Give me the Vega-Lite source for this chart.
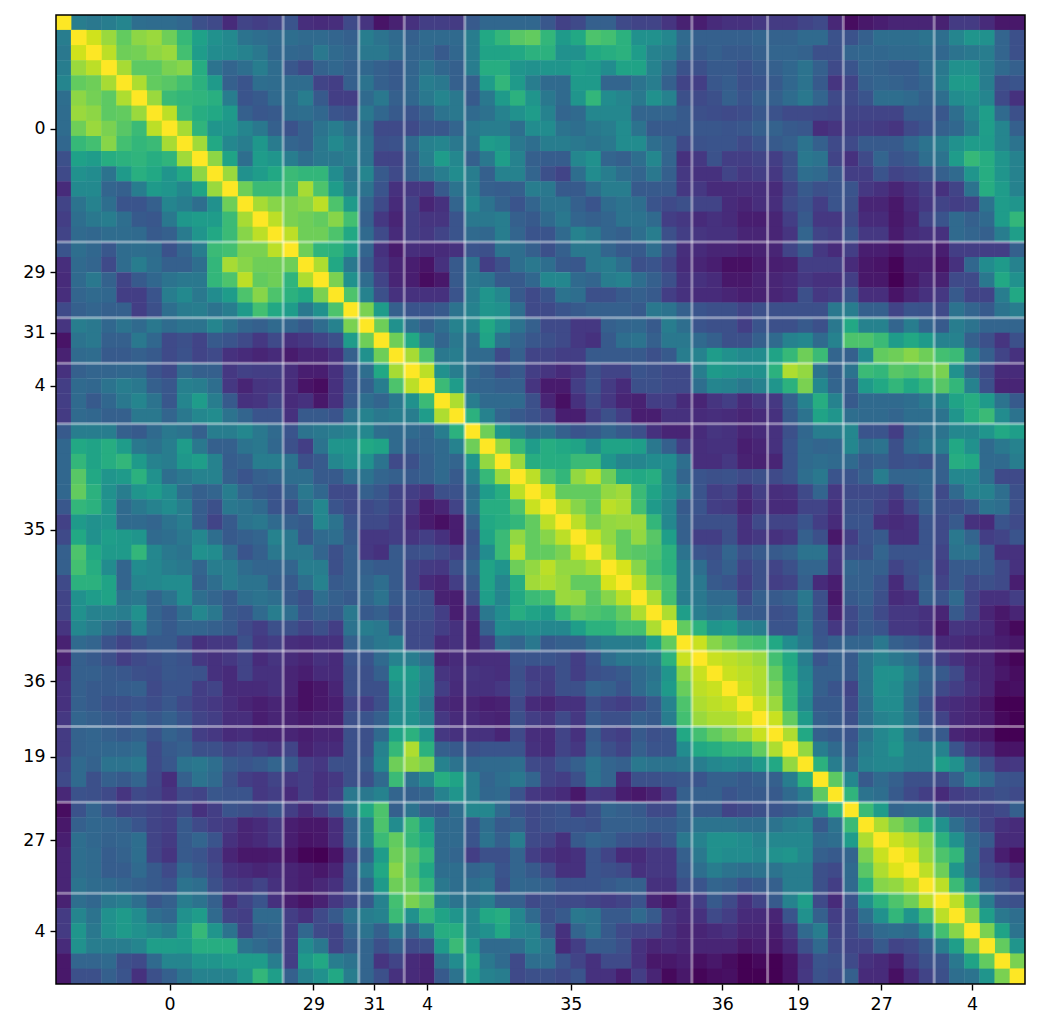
{"$schema":"https://vega.github.io/schema/vega-lite/v6.json","width":969,"height":969,"autosize":"none","padding":{"left":56,"top":15,"right":14,"bottom":49},"background":"white","config":{"view":{"stroke":null}},
"data":{"values":[
{"i":0,"j":0,"v":100},{"i":0,"j":1,"v":42},{"i":0,"j":2,"v":40},{"i":0,"j":3,"v":42},{"i":0,"j":4,"v":45},{"i":0,"j":5,"v":36},{"i":0,"j":6,"v":35},{"i":0,"j":7,"v":35},{"i":0,"j":8,"v":33},{"i":0,"j":9,"v":24},{"i":0,"j":10,"v":22},{"i":0,"j":11,"v":12},{"i":0,"j":12,"v":20},{"i":0,"j":13,"v":18},{"i":0,"j":14,"v":20},{"i":0,"j":15,"v":26},{"i":0,"j":16,"v":13},{"i":0,"j":17,"v":12},{"i":0,"j":18,"v":13},{"i":0,"j":19,"v":22},{"i":0,"j":20,"v":15},{"i":0,"j":21,"v":5},{"i":0,"j":22,"v":9},{"i":0,"j":23,"v":14},{"i":0,"j":24,"v":18},{"i":0,"j":25,"v":18},{"i":0,"j":26,"v":17},{"i":0,"j":27,"v":28},{"i":0,"j":28,"v":33},{"i":0,"j":29,"v":33},{"i":0,"j":30,"v":33},{"i":0,"j":31,"v":33},{"i":0,"j":32,"v":27},{"i":0,"j":33,"v":19},{"i":0,"j":34,"v":22},{"i":0,"j":35,"v":30},{"i":0,"j":36,"v":30},{"i":0,"j":37,"v":22},{"i":0,"j":38,"v":20},{"i":0,"j":39,"v":20},{"i":0,"j":40,"v":15},{"i":0,"j":41,"v":9},{"i":0,"j":42,"v":8},{"i":0,"j":43,"v":12},{"i":0,"j":44,"v":14},{"i":0,"j":45,"v":14},{"i":0,"j":46,"v":16},{"i":0,"j":47,"v":17},{"i":0,"j":48,"v":17},{"i":0,"j":49,"v":20},{"i":0,"j":50,"v":22},{"i":0,"j":51,"v":11},{"i":0,"j":52,"v":3},{"i":0,"j":53,"v":6},{"i":0,"j":54,"v":8},{"i":0,"j":55,"v":10},{"i":0,"j":56,"v":10},{"i":0,"j":57,"v":10},{"i":0,"j":58,"v":9},{"i":0,"j":59,"v":17},{"i":0,"j":60,"v":17},{"i":0,"j":61,"v":12},{"i":0,"j":62,"v":6},{"i":0,"j":63,"v":6},
{"i":1,"j":1,"v":100},{"i":1,"j":2,"v":93},{"i":1,"j":3,"v":85},{"i":1,"j":4,"v":76},{"i":1,"j":5,"v":83},{"i":1,"j":6,"v":85},{"i":1,"j":7,"v":78},{"i":1,"j":8,"v":67},{"i":1,"j":9,"v":57},{"i":1,"j":10,"v":50},{"i":1,"j":11,"v":47},{"i":1,"j":12,"v":38},{"i":1,"j":13,"v":36},{"i":1,"j":14,"v":34},{"i":1,"j":15,"v":36},{"i":1,"j":16,"v":34},{"i":1,"j":17,"v":34},{"i":1,"j":18,"v":32},{"i":1,"j":19,"v":30},{"i":1,"j":20,"v":42},{"i":1,"j":21,"v":38},{"i":1,"j":22,"v":34},{"i":1,"j":23,"v":30},{"i":1,"j":24,"v":34},{"i":1,"j":25,"v":34},{"i":1,"j":26,"v":34},{"i":1,"j":27,"v":42},{"i":1,"j":28,"v":60},{"i":1,"j":29,"v":66},{"i":1,"j":30,"v":74},{"i":1,"j":31,"v":76},{"i":1,"j":32,"v":66},{"i":1,"j":33,"v":54},{"i":1,"j":34,"v":60},{"i":1,"j":35,"v":72},{"i":1,"j":36,"v":70},{"i":1,"j":37,"v":64},{"i":1,"j":38,"v":50},{"i":1,"j":39,"v":50},{"i":1,"j":40,"v":46},{"i":1,"j":41,"v":34},{"i":1,"j":42,"v":30},{"i":1,"j":43,"v":30},{"i":1,"j":44,"v":30},{"i":1,"j":45,"v":30},{"i":1,"j":46,"v":32},{"i":1,"j":47,"v":31},{"i":1,"j":48,"v":31},{"i":1,"j":49,"v":34},{"i":1,"j":50,"v":34},{"i":1,"j":51,"v":25},{"i":1,"j":52,"v":25},{"i":1,"j":53,"v":30},{"i":1,"j":54,"v":36},{"i":1,"j":55,"v":36},{"i":1,"j":56,"v":36},{"i":1,"j":57,"v":38},{"i":1,"j":58,"v":36},{"i":1,"j":59,"v":45},{"i":1,"j":60,"v":52},{"i":1,"j":61,"v":50},{"i":1,"j":62,"v":32},{"i":1,"j":63,"v":24},
{"i":2,"j":2,"v":100},{"i":2,"j":3,"v":90},{"i":2,"j":4,"v":78},{"i":2,"j":5,"v":79},{"i":2,"j":6,"v":83},{"i":2,"j":7,"v":85},{"i":2,"j":8,"v":70},{"i":2,"j":9,"v":55},{"i":2,"j":10,"v":48},{"i":2,"j":11,"v":47},{"i":2,"j":12,"v":44},{"i":2,"j":13,"v":40},{"i":2,"j":14,"v":33},{"i":2,"j":15,"v":33},{"i":2,"j":16,"v":32},{"i":2,"j":17,"v":40},{"i":2,"j":18,"v":34},{"i":2,"j":19,"v":32},{"i":2,"j":20,"v":40},{"i":2,"j":21,"v":40},{"i":2,"j":22,"v":35},{"i":2,"j":23,"v":32},{"i":2,"j":24,"v":33},{"i":2,"j":25,"v":28},{"i":2,"j":26,"v":33},{"i":2,"j":27,"v":42},{"i":2,"j":28,"v":58},{"i":2,"j":29,"v":58},{"i":2,"j":30,"v":60},{"i":2,"j":31,"v":64},{"i":2,"j":32,"v":64},{"i":2,"j":33,"v":50},{"i":2,"j":34,"v":50},{"i":2,"j":35,"v":60},{"i":2,"j":36,"v":62},{"i":2,"j":37,"v":64},{"i":2,"j":38,"v":55},{"i":2,"j":39,"v":44},{"i":2,"j":40,"v":42},{"i":2,"j":41,"v":32},{"i":2,"j":42,"v":28},{"i":2,"j":43,"v":30},{"i":2,"j":44,"v":28},{"i":2,"j":45,"v":28},{"i":2,"j":46,"v":30},{"i":2,"j":47,"v":32},{"i":2,"j":48,"v":32},{"i":2,"j":49,"v":31},{"i":2,"j":50,"v":24},{"i":2,"j":51,"v":24},{"i":2,"j":52,"v":32},{"i":2,"j":53,"v":33},{"i":2,"j":54,"v":33},{"i":2,"j":55,"v":34},{"i":2,"j":56,"v":34},{"i":2,"j":57,"v":35},{"i":2,"j":58,"v":33},{"i":2,"j":59,"v":38},{"i":2,"j":60,"v":40},{"i":2,"j":61,"v":42},{"i":2,"j":62,"v":32},{"i":2,"j":63,"v":24},
{"i":3,"j":3,"v":100},{"i":3,"j":4,"v":87},{"i":3,"j":5,"v":75},{"i":3,"j":6,"v":75},{"i":3,"j":7,"v":80},{"i":3,"j":8,"v":82},{"i":3,"j":9,"v":62},{"i":3,"j":10,"v":38},{"i":3,"j":11,"v":32},{"i":3,"j":12,"v":36},{"i":3,"j":13,"v":42},{"i":3,"j":14,"v":35},{"i":3,"j":15,"v":27},{"i":3,"j":16,"v":22},{"i":3,"j":17,"v":31},{"i":3,"j":18,"v":33},{"i":3,"j":19,"v":30},{"i":3,"j":20,"v":33},{"i":3,"j":21,"v":30},{"i":3,"j":22,"v":28},{"i":3,"j":23,"v":32},{"i":3,"j":24,"v":38},{"i":3,"j":25,"v":33},{"i":3,"j":26,"v":30},{"i":3,"j":27,"v":42},{"i":3,"j":28,"v":62},{"i":3,"j":29,"v":62},{"i":3,"j":30,"v":52},{"i":3,"j":31,"v":50},{"i":3,"j":32,"v":52},{"i":3,"j":33,"v":52},{"i":3,"j":34,"v":56},{"i":3,"j":35,"v":54},{"i":3,"j":36,"v":48},{"i":3,"j":37,"v":58},{"i":3,"j":38,"v":58},{"i":3,"j":39,"v":44},{"i":3,"j":40,"v":35},{"i":3,"j":41,"v":25},{"i":3,"j":42,"v":24},{"i":3,"j":43,"v":28},{"i":3,"j":44,"v":28},{"i":3,"j":45,"v":25},{"i":3,"j":46,"v":28},{"i":3,"j":47,"v":30},{"i":3,"j":48,"v":33},{"i":3,"j":49,"v":38},{"i":3,"j":50,"v":30},{"i":3,"j":51,"v":22},{"i":3,"j":52,"v":26},{"i":3,"j":53,"v":32},{"i":3,"j":54,"v":31},{"i":3,"j":55,"v":29},{"i":3,"j":56,"v":29},{"i":3,"j":57,"v":34},{"i":3,"j":58,"v":40},{"i":3,"j":59,"v":50},{"i":3,"j":60,"v":50},{"i":3,"j":61,"v":42},{"i":3,"j":62,"v":34},{"i":3,"j":63,"v":30},
{"i":4,"j":4,"v":100},{"i":4,"j":5,"v":88},{"i":4,"j":6,"v":76},{"i":4,"j":7,"v":74},{"i":4,"j":8,"v":70},{"i":4,"j":9,"v":64},{"i":4,"j":10,"v":54},{"i":4,"j":11,"v":30},{"i":4,"j":12,"v":26},{"i":4,"j":13,"v":36},{"i":4,"j":14,"v":35},{"i":4,"j":15,"v":35},{"i":4,"j":16,"v":35},{"i":4,"j":17,"v":20},{"i":4,"j":18,"v":18},{"i":4,"j":19,"v":30},{"i":4,"j":20,"v":38},{"i":4,"j":21,"v":30},{"i":4,"j":22,"v":28},{"i":4,"j":23,"v":33},{"i":4,"j":24,"v":42},{"i":4,"j":25,"v":40},{"i":4,"j":26,"v":30},{"i":4,"j":27,"v":30},{"i":4,"j":28,"v":55},{"i":4,"j":29,"v":66},{"i":4,"j":30,"v":54},{"i":4,"j":31,"v":42},{"i":4,"j":32,"v":34},{"i":4,"j":33,"v":34},{"i":4,"j":34,"v":54},{"i":4,"j":35,"v":54},{"i":4,"j":36,"v":32},{"i":4,"j":37,"v":32},{"i":4,"j":38,"v":38},{"i":4,"j":39,"v":42},{"i":4,"j":40,"v":30},{"i":4,"j":41,"v":20},{"i":4,"j":42,"v":18},{"i":4,"j":43,"v":27},{"i":4,"j":44,"v":29},{"i":4,"j":45,"v":24},{"i":4,"j":46,"v":26},{"i":4,"j":47,"v":28},{"i":4,"j":48,"v":33},{"i":4,"j":49,"v":38},{"i":4,"j":50,"v":28},{"i":4,"j":51,"v":15},{"i":4,"j":52,"v":20},{"i":4,"j":53,"v":30},{"i":4,"j":54,"v":32},{"i":4,"j":55,"v":31},{"i":4,"j":56,"v":29},{"i":4,"j":57,"v":32},{"i":4,"j":58,"v":42},{"i":4,"j":59,"v":54},{"i":4,"j":60,"v":54},{"i":4,"j":61,"v":42},{"i":4,"j":62,"v":24},{"i":4,"j":63,"v":26},
{"i":5,"j":5,"v":100},{"i":5,"j":6,"v":85},{"i":5,"j":7,"v":68},{"i":5,"j":8,"v":66},{"i":5,"j":9,"v":65},{"i":5,"j":10,"v":63},{"i":5,"j":11,"v":42},{"i":5,"j":12,"v":26},{"i":5,"j":13,"v":28},{"i":5,"j":14,"v":34},{"i":5,"j":15,"v":36},{"i":5,"j":16,"v":42},{"i":5,"j":17,"v":28},{"i":5,"j":18,"v":18},{"i":5,"j":19,"v":18},{"i":5,"j":20,"v":34},{"i":5,"j":21,"v":40},{"i":5,"j":22,"v":30},{"i":5,"j":23,"v":33},{"i":5,"j":24,"v":40},{"i":5,"j":25,"v":45},{"i":5,"j":26,"v":40},{"i":5,"j":27,"v":28},{"i":5,"j":28,"v":40},{"i":5,"j":29,"v":54},{"i":5,"j":30,"v":64},{"i":5,"j":31,"v":52},{"i":5,"j":32,"v":40},{"i":5,"j":33,"v":34},{"i":5,"j":34,"v":52},{"i":5,"j":35,"v":66},{"i":5,"j":36,"v":48},{"i":5,"j":37,"v":45},{"i":5,"j":38,"v":40},{"i":5,"j":39,"v":50},{"i":5,"j":40,"v":44},{"i":5,"j":41,"v":24},{"i":5,"j":42,"v":22},{"i":5,"j":43,"v":24},{"i":5,"j":44,"v":30},{"i":5,"j":45,"v":26},{"i":5,"j":46,"v":30},{"i":5,"j":47,"v":30},{"i":5,"j":48,"v":35},{"i":5,"j":49,"v":40},{"i":5,"j":50,"v":32},{"i":5,"j":51,"v":22},{"i":5,"j":52,"v":22},{"i":5,"j":53,"v":26},{"i":5,"j":54,"v":36},{"i":5,"j":55,"v":36},{"i":5,"j":56,"v":34},{"i":5,"j":57,"v":30},{"i":5,"j":58,"v":36},{"i":5,"j":59,"v":48},{"i":5,"j":60,"v":50},{"i":5,"j":61,"v":45},{"i":5,"j":62,"v":22},{"i":5,"j":63,"v":14},
{"i":6,"j":6,"v":100},{"i":6,"j":7,"v":90},{"i":6,"j":8,"v":68},{"i":6,"j":9,"v":62},{"i":6,"j":10,"v":60},{"i":6,"j":11,"v":54},{"i":6,"j":12,"v":30},{"i":6,"j":13,"v":27},{"i":6,"j":14,"v":28},{"i":6,"j":15,"v":35},{"i":6,"j":16,"v":36},{"i":6,"j":17,"v":33},{"i":6,"j":18,"v":26},{"i":6,"j":19,"v":24},{"i":6,"j":20,"v":40},{"i":6,"j":21,"v":33},{"i":6,"j":22,"v":28},{"i":6,"j":23,"v":26},{"i":6,"j":24,"v":30},{"i":6,"j":25,"v":38},{"i":6,"j":26,"v":40},{"i":6,"j":27,"v":34},{"i":6,"j":28,"v":37},{"i":6,"j":29,"v":44},{"i":6,"j":30,"v":50},{"i":6,"j":31,"v":55},{"i":6,"j":32,"v":44},{"i":6,"j":33,"v":32},{"i":6,"j":34,"v":34},{"i":6,"j":35,"v":46},{"i":6,"j":36,"v":46},{"i":6,"j":37,"v":46},{"i":6,"j":38,"v":32},{"i":6,"j":39,"v":32},{"i":6,"j":40,"v":32},{"i":6,"j":41,"v":28},{"i":6,"j":42,"v":24},{"i":6,"j":43,"v":23},{"i":6,"j":44,"v":22},{"i":6,"j":45,"v":23},{"i":6,"j":46,"v":27},{"i":6,"j":47,"v":25},{"i":6,"j":48,"v":22},{"i":6,"j":49,"v":22},{"i":6,"j":50,"v":21},{"i":6,"j":51,"v":20},{"i":6,"j":52,"v":20},{"i":6,"j":53,"v":20},{"i":6,"j":54,"v":20},{"i":6,"j":55,"v":20},{"i":6,"j":56,"v":28},{"i":6,"j":57,"v":28},{"i":6,"j":58,"v":27},{"i":6,"j":59,"v":36},{"i":6,"j":60,"v":46},{"i":6,"j":61,"v":56},{"i":6,"j":62,"v":34},{"i":6,"j":63,"v":24},
{"i":7,"j":7,"v":100},{"i":7,"j":8,"v":87},{"i":7,"j":9,"v":65},{"i":7,"j":10,"v":52},{"i":7,"j":11,"v":52},{"i":7,"j":12,"v":45},{"i":7,"j":13,"v":40},{"i":7,"j":14,"v":30},{"i":7,"j":15,"v":25},{"i":7,"j":16,"v":30},{"i":7,"j":17,"v":38},{"i":7,"j":18,"v":42},{"i":7,"j":19,"v":36},{"i":7,"j":20,"v":35},{"i":7,"j":21,"v":22},{"i":7,"j":22,"v":22},{"i":7,"j":23,"v":22},{"i":7,"j":24,"v":27},{"i":7,"j":25,"v":27},{"i":7,"j":26,"v":32},{"i":7,"j":27,"v":40},{"i":7,"j":28,"v":42},{"i":7,"j":29,"v":42},{"i":7,"j":30,"v":36},{"i":7,"j":31,"v":48},{"i":7,"j":32,"v":48},{"i":7,"j":33,"v":38},{"i":7,"j":34,"v":36},{"i":7,"j":35,"v":40},{"i":7,"j":36,"v":42},{"i":7,"j":37,"v":48},{"i":7,"j":38,"v":38},{"i":7,"j":39,"v":28},{"i":7,"j":40,"v":28},{"i":7,"j":41,"v":28},{"i":7,"j":42,"v":27},{"i":7,"j":43,"v":27},{"i":7,"j":44,"v":26},{"i":7,"j":45,"v":27},{"i":7,"j":46,"v":30},{"i":7,"j":47,"v":31},{"i":7,"j":48,"v":28},{"i":7,"j":49,"v":27},{"i":7,"j":50,"v":13},{"i":7,"j":51,"v":15},{"i":7,"j":52,"v":18},{"i":7,"j":53,"v":18},{"i":7,"j":54,"v":17},{"i":7,"j":55,"v":15},{"i":7,"j":56,"v":22},{"i":7,"j":57,"v":26},{"i":7,"j":58,"v":30},{"i":7,"j":59,"v":33},{"i":7,"j":60,"v":42},{"i":7,"j":61,"v":56},{"i":7,"j":62,"v":45},{"i":7,"j":63,"v":30},
{"i":8,"j":8,"v":100},{"i":8,"j":9,"v":86},{"i":8,"j":10,"v":60},{"i":8,"j":11,"v":46},{"i":8,"j":12,"v":42},{"i":8,"j":13,"v":53},{"i":8,"j":14,"v":41},{"i":8,"j":15,"v":32},{"i":8,"j":16,"v":30},{"i":8,"j":17,"v":40},{"i":8,"j":18,"v":47},{"i":8,"j":19,"v":41},{"i":8,"j":20,"v":38},{"i":8,"j":21,"v":24},{"i":8,"j":22,"v":25},{"i":8,"j":23,"v":34},{"i":8,"j":24,"v":43},{"i":8,"j":25,"v":45},{"i":8,"j":26,"v":40},{"i":8,"j":27,"v":38},{"i":8,"j":28,"v":55},{"i":8,"j":29,"v":53},{"i":8,"j":30,"v":40},{"i":8,"j":31,"v":36},{"i":8,"j":32,"v":42},{"i":8,"j":33,"v":42},{"i":8,"j":34,"v":40},{"i":8,"j":35,"v":38},{"i":8,"j":36,"v":40},{"i":8,"j":37,"v":48},{"i":8,"j":38,"v":48},{"i":8,"j":39,"v":36},{"i":8,"j":40,"v":32},{"i":8,"j":41,"v":22},{"i":8,"j":42,"v":25},{"i":8,"j":43,"v":26},{"i":8,"j":44,"v":26},{"i":8,"j":45,"v":22},{"i":8,"j":46,"v":26},{"i":8,"j":47,"v":28},{"i":8,"j":48,"v":30},{"i":8,"j":49,"v":38},{"i":8,"j":50,"v":30},{"i":8,"j":51,"v":22},{"i":8,"j":52,"v":22},{"i":8,"j":53,"v":28},{"i":8,"j":54,"v":28},{"i":8,"j":55,"v":28},{"i":8,"j":56,"v":33},{"i":8,"j":57,"v":38},{"i":8,"j":58,"v":42},{"i":8,"j":59,"v":50},{"i":8,"j":60,"v":55},{"i":8,"j":61,"v":55},{"i":8,"j":62,"v":45},{"i":8,"j":63,"v":38},
{"i":9,"j":9,"v":100},{"i":9,"j":10,"v":83},{"i":9,"j":11,"v":58},{"i":9,"j":12,"v":36},{"i":9,"j":13,"v":55},{"i":9,"j":14,"v":52},{"i":9,"j":15,"v":42},{"i":9,"j":16,"v":36},{"i":9,"j":17,"v":40},{"i":9,"j":18,"v":40},{"i":9,"j":19,"v":42},{"i":9,"j":20,"v":38},{"i":9,"j":21,"v":20},{"i":9,"j":22,"v":20},{"i":9,"j":23,"v":30},{"i":9,"j":24,"v":42},{"i":9,"j":25,"v":55},{"i":9,"j":26,"v":46},{"i":9,"j":27,"v":30},{"i":9,"j":28,"v":40},{"i":9,"j":29,"v":56},{"i":9,"j":30,"v":44},{"i":9,"j":31,"v":30},{"i":9,"j":32,"v":29},{"i":9,"j":33,"v":29},{"i":9,"j":34,"v":46},{"i":9,"j":35,"v":50},{"i":9,"j":36,"v":32},{"i":9,"j":37,"v":30},{"i":9,"j":38,"v":36},{"i":9,"j":39,"v":46},{"i":9,"j":40,"v":32},{"i":9,"j":41,"v":14},{"i":9,"j":42,"v":16},{"i":9,"j":43,"v":25},{"i":9,"j":44,"v":18},{"i":9,"j":45,"v":18},{"i":9,"j":46,"v":20},{"i":9,"j":47,"v":18},{"i":9,"j":48,"v":24},{"i":9,"j":49,"v":40},{"i":9,"j":50,"v":38},{"i":9,"j":51,"v":20},{"i":9,"j":52,"v":14},{"i":9,"j":53,"v":22},{"i":9,"j":54,"v":32},{"i":9,"j":55,"v":26},{"i":9,"j":56,"v":28},{"i":9,"j":57,"v":36},{"i":9,"j":58,"v":38},{"i":9,"j":59,"v":55},{"i":9,"j":60,"v":67},{"i":9,"j":61,"v":62},{"i":9,"j":62,"v":52},{"i":9,"j":63,"v":44},
{"i":10,"j":10,"v":100},{"i":10,"j":11,"v":85},{"i":10,"j":12,"v":50},{"i":10,"j":13,"v":55},{"i":10,"j":14,"v":60},{"i":10,"j":15,"v":68},{"i":10,"j":16,"v":66},{"i":10,"j":17,"v":66},{"i":10,"j":18,"v":48},{"i":10,"j":19,"v":38},{"i":10,"j":20,"v":45},{"i":10,"j":21,"v":28},{"i":10,"j":22,"v":22},{"i":10,"j":23,"v":30},{"i":10,"j":24,"v":36},{"i":10,"j":25,"v":42},{"i":10,"j":26,"v":48},{"i":10,"j":27,"v":42},{"i":10,"j":28,"v":30},{"i":10,"j":29,"v":44},{"i":10,"j":30,"v":44},{"i":10,"j":31,"v":32},{"i":10,"j":32,"v":24},{"i":10,"j":33,"v":20},{"i":10,"j":34,"v":36},{"i":10,"j":35,"v":48},{"i":10,"j":36,"v":42},{"i":10,"j":37,"v":36},{"i":10,"j":38,"v":32},{"i":10,"j":39,"v":40},{"i":10,"j":40,"v":30},{"i":10,"j":41,"v":16},{"i":10,"j":42,"v":14},{"i":10,"j":43,"v":14},{"i":10,"j":44,"v":20},{"i":10,"j":45,"v":16},{"i":10,"j":46,"v":18},{"i":10,"j":47,"v":16},{"i":10,"j":48,"v":24},{"i":10,"j":49,"v":36},{"i":10,"j":50,"v":34},{"i":10,"j":51,"v":27},{"i":10,"j":52,"v":18},{"i":10,"j":53,"v":18},{"i":10,"j":54,"v":26},{"i":10,"j":55,"v":20},{"i":10,"j":56,"v":22},{"i":10,"j":57,"v":24},{"i":10,"j":58,"v":30},{"i":10,"j":59,"v":34},{"i":10,"j":60,"v":52},{"i":10,"j":61,"v":62},{"i":10,"j":62,"v":52},{"i":10,"j":63,"v":44},
{"i":11,"j":11,"v":100},{"i":11,"j":12,"v":78},{"i":11,"j":13,"v":68},{"i":11,"j":14,"v":68},{"i":11,"j":15,"v":70},{"i":11,"j":16,"v":87},{"i":11,"j":17,"v":72},{"i":11,"j":18,"v":55},{"i":11,"j":19,"v":42},{"i":11,"j":20,"v":38},{"i":11,"j":21,"v":26},{"i":11,"j":22,"v":14},{"i":11,"j":23,"v":16},{"i":11,"j":24,"v":16},{"i":11,"j":25,"v":28},{"i":11,"j":26,"v":38},{"i":11,"j":27,"v":42},{"i":11,"j":28,"v":30},{"i":11,"j":29,"v":29},{"i":11,"j":30,"v":30},{"i":11,"j":31,"v":42},{"i":11,"j":32,"v":40},{"i":11,"j":33,"v":28},{"i":11,"j":34,"v":28},{"i":11,"j":35,"v":36},{"i":11,"j":36,"v":42},{"i":11,"j":37,"v":42},{"i":11,"j":38,"v":28},{"i":11,"j":39,"v":28},{"i":11,"j":40,"v":28},{"i":11,"j":41,"v":16},{"i":11,"j":42,"v":16},{"i":11,"j":43,"v":12},{"i":11,"j":44,"v":12},{"i":11,"j":45,"v":13},{"i":11,"j":46,"v":13},{"i":11,"j":47,"v":12},{"i":11,"j":48,"v":20},{"i":11,"j":49,"v":28},{"i":11,"j":50,"v":24},{"i":11,"j":51,"v":26},{"i":11,"j":52,"v":26},{"i":11,"j":53,"v":16},{"i":11,"j":54,"v":14},{"i":11,"j":55,"v":10},{"i":11,"j":56,"v":14},{"i":11,"j":57,"v":18},{"i":11,"j":58,"v":14},{"i":11,"j":59,"v":20},{"i":11,"j":60,"v":38},{"i":11,"j":61,"v":62},{"i":11,"j":62,"v":55},{"i":11,"j":63,"v":44},
{"i":12,"j":12,"v":100},{"i":12,"j":13,"v":87},{"i":12,"j":14,"v":82},{"i":12,"j":15,"v":80},{"i":12,"j":16,"v":82},{"i":12,"j":17,"v":90},{"i":12,"j":18,"v":72},{"i":12,"j":19,"v":54},{"i":12,"j":20,"v":32},{"i":12,"j":21,"v":22},{"i":12,"j":22,"v":12},{"i":12,"j":23,"v":19},{"i":12,"j":24,"v":10},{"i":12,"j":25,"v":14},{"i":12,"j":26,"v":32},{"i":12,"j":27,"v":46},{"i":12,"j":28,"v":38},{"i":12,"j":29,"v":31},{"i":12,"j":30,"v":26},{"i":12,"j":31,"v":32},{"i":12,"j":32,"v":38},{"i":12,"j":33,"v":38},{"i":12,"j":34,"v":30},{"i":12,"j":35,"v":26},{"i":12,"j":36,"v":35},{"i":12,"j":37,"v":38},{"i":12,"j":38,"v":36},{"i":12,"j":39,"v":26},{"i":12,"j":40,"v":22},{"i":12,"j":41,"v":24},{"i":12,"j":42,"v":20},{"i":12,"j":43,"v":20},{"i":12,"j":44,"v":12},{"i":12,"j":45,"v":10},{"i":12,"j":46,"v":13},{"i":12,"j":47,"v":13},{"i":12,"j":48,"v":22},{"i":12,"j":49,"v":26},{"i":12,"j":50,"v":18},{"i":12,"j":51,"v":26},{"i":12,"j":52,"v":24},{"i":12,"j":53,"v":10},{"i":12,"j":54,"v":10},{"i":12,"j":55,"v":6},{"i":12,"j":56,"v":12},{"i":12,"j":57,"v":16},{"i":12,"j":58,"v":20},{"i":12,"j":59,"v":18},{"i":12,"j":60,"v":20},{"i":12,"j":61,"v":38},{"i":12,"j":62,"v":55},{"i":12,"j":63,"v":52},
{"i":13,"j":13,"v":100},{"i":13,"j":14,"v":90},{"i":13,"j":15,"v":80},{"i":13,"j":16,"v":78},{"i":13,"j":17,"v":76},{"i":13,"j":18,"v":82},{"i":13,"j":19,"v":70},{"i":13,"j":20,"v":30},{"i":13,"j":21,"v":16},{"i":13,"j":22,"v":10},{"i":13,"j":23,"v":18},{"i":13,"j":24,"v":15},{"i":13,"j":25,"v":15},{"i":13,"j":26,"v":26},{"i":13,"j":27,"v":40},{"i":13,"j":28,"v":40},{"i":13,"j":29,"v":42},{"i":13,"j":30,"v":30},{"i":13,"j":31,"v":28},{"i":13,"j":32,"v":34},{"i":13,"j":33,"v":40},{"i":13,"j":34,"v":32},{"i":13,"j":35,"v":30},{"i":13,"j":36,"v":32},{"i":13,"j":37,"v":38},{"i":13,"j":38,"v":38},{"i":13,"j":39,"v":34},{"i":13,"j":40,"v":18},{"i":13,"j":41,"v":16},{"i":13,"j":42,"v":12},{"i":13,"j":43,"v":14},{"i":13,"j":44,"v":12},{"i":13,"j":45,"v":8},{"i":13,"j":46,"v":8},{"i":13,"j":47,"v":10},{"i":13,"j":48,"v":18},{"i":13,"j":49,"v":28},{"i":13,"j":50,"v":16},{"i":13,"j":51,"v":16},{"i":13,"j":52,"v":22},{"i":13,"j":53,"v":12},{"i":13,"j":54,"v":12},{"i":13,"j":55,"v":6},{"i":13,"j":56,"v":10},{"i":13,"j":57,"v":20},{"i":13,"j":58,"v":26},{"i":13,"j":59,"v":34},{"i":13,"j":60,"v":30},{"i":13,"j":61,"v":34},{"i":13,"j":62,"v":55},{"i":13,"j":63,"v":66},
{"i":14,"j":14,"v":100},{"i":14,"j":15,"v":90},{"i":14,"j":16,"v":78},{"i":14,"j":17,"v":78},{"i":14,"j":18,"v":72},{"i":14,"j":19,"v":60},{"i":14,"j":20,"v":34},{"i":14,"j":21,"v":22},{"i":14,"j":22,"v":12},{"i":14,"j":23,"v":18},{"i":14,"j":24,"v":16},{"i":14,"j":25,"v":20},{"i":14,"j":26,"v":26},{"i":14,"j":27,"v":34},{"i":14,"j":28,"v":33},{"i":14,"j":29,"v":42},{"i":14,"j":30,"v":32},{"i":14,"j":31,"v":26},{"i":14,"j":32,"v":26},{"i":14,"j":33,"v":34},{"i":14,"j":34,"v":44},{"i":14,"j":35,"v":40},{"i":14,"j":36,"v":32},{"i":14,"j":37,"v":30},{"i":14,"j":38,"v":36},{"i":14,"j":39,"v":42},{"i":14,"j":40,"v":24},{"i":14,"j":41,"v":18},{"i":14,"j":42,"v":15},{"i":14,"j":43,"v":14},{"i":14,"j":44,"v":14},{"i":14,"j":45,"v":10},{"i":14,"j":46,"v":10},{"i":14,"j":47,"v":10},{"i":14,"j":48,"v":15},{"i":14,"j":49,"v":32},{"i":14,"j":50,"v":20},{"i":14,"j":51,"v":18},{"i":14,"j":52,"v":26},{"i":14,"j":53,"v":16},{"i":14,"j":54,"v":16},{"i":14,"j":55,"v":7},{"i":14,"j":56,"v":12},{"i":14,"j":57,"v":14},{"i":14,"j":58,"v":14},{"i":14,"j":59,"v":34},{"i":14,"j":60,"v":32},{"i":14,"j":61,"v":30},{"i":14,"j":62,"v":42},{"i":14,"j":63,"v":56},
{"i":15,"j":15,"v":100},{"i":15,"j":16,"v":78},{"i":15,"j":17,"v":65},{"i":15,"j":18,"v":64},{"i":15,"j":19,"v":55},{"i":15,"j":20,"v":32},{"i":15,"j":21,"v":14},{"i":15,"j":22,"v":7},{"i":15,"j":23,"v":13},{"i":15,"j":24,"v":12},{"i":15,"j":25,"v":12},{"i":15,"j":26,"v":14},{"i":15,"j":27,"v":26},{"i":15,"j":28,"v":24},{"i":15,"j":29,"v":38},{"i":15,"j":30,"v":36},{"i":15,"j":31,"v":30},{"i":15,"j":32,"v":24},{"i":15,"j":33,"v":30},{"i":15,"j":34,"v":40},{"i":15,"j":35,"v":40},{"i":15,"j":36,"v":32},{"i":15,"j":37,"v":28},{"i":15,"j":38,"v":28},{"i":15,"j":39,"v":36},{"i":15,"j":40,"v":24},{"i":15,"j":41,"v":13},{"i":15,"j":42,"v":12},{"i":15,"j":43,"v":10},{"i":15,"j":44,"v":10},{"i":15,"j":45,"v":8},{"i":15,"j":46,"v":9},{"i":15,"j":47,"v":10},{"i":15,"j":48,"v":20},{"i":15,"j":49,"v":28},{"i":15,"j":50,"v":16},{"i":15,"j":51,"v":12},{"i":15,"j":52,"v":18},{"i":15,"j":53,"v":8},{"i":15,"j":54,"v":8},{"i":15,"j":55,"v":5},{"i":15,"j":56,"v":10},{"i":15,"j":57,"v":10},{"i":15,"j":58,"v":8},{"i":15,"j":59,"v":18},{"i":15,"j":60,"v":18},{"i":15,"j":61,"v":18},{"i":15,"j":62,"v":18},{"i":15,"j":63,"v":30},
{"i":16,"j":16,"v":100},{"i":16,"j":17,"v":88},{"i":16,"j":18,"v":60},{"i":16,"j":19,"v":40},{"i":16,"j":20,"v":28},{"i":16,"j":21,"v":16},{"i":16,"j":22,"v":10},{"i":16,"j":23,"v":8},{"i":16,"j":24,"v":5},{"i":16,"j":25,"v":14},{"i":16,"j":26,"v":28},{"i":16,"j":27,"v":38},{"i":16,"j":28,"v":18},{"i":16,"j":29,"v":24},{"i":16,"j":30,"v":36},{"i":16,"j":31,"v":40},{"i":16,"j":32,"v":36},{"i":16,"j":33,"v":28},{"i":16,"j":34,"v":27},{"i":16,"j":35,"v":40},{"i":16,"j":36,"v":42},{"i":16,"j":37,"v":36},{"i":16,"j":38,"v":24},{"i":16,"j":39,"v":26},{"i":16,"j":40,"v":20},{"i":16,"j":41,"v":12},{"i":16,"j":42,"v":10},{"i":16,"j":43,"v":8},{"i":16,"j":44,"v":4},{"i":16,"j":45,"v":4},{"i":16,"j":46,"v":7},{"i":16,"j":47,"v":8},{"i":16,"j":48,"v":9},{"i":16,"j":49,"v":18},{"i":16,"j":50,"v":18},{"i":16,"j":51,"v":18},{"i":16,"j":52,"v":12},{"i":16,"j":53,"v":6},{"i":16,"j":54,"v":5},{"i":16,"j":55,"v":1},{"i":16,"j":56,"v":8},{"i":16,"j":57,"v":8},{"i":16,"j":58,"v":5},{"i":16,"j":59,"v":14},{"i":16,"j":60,"v":33},{"i":16,"j":61,"v":48},{"i":16,"j":62,"v":54},{"i":16,"j":63,"v":44},
{"i":17,"j":17,"v":100},{"i":17,"j":18,"v":80},{"i":17,"j":19,"v":50},{"i":17,"j":20,"v":35},{"i":17,"j":21,"v":20},{"i":17,"j":22,"v":10},{"i":17,"j":23,"v":8},{"i":17,"j":24,"v":3},{"i":17,"j":25,"v":6},{"i":17,"j":26,"v":28},{"i":17,"j":27,"v":40},{"i":17,"j":28,"v":38},{"i":17,"j":29,"v":28},{"i":17,"j":30,"v":28},{"i":17,"j":31,"v":33},{"i":17,"j":32,"v":46},{"i":17,"j":33,"v":46},{"i":17,"j":34,"v":34},{"i":17,"j":35,"v":32},{"i":17,"j":36,"v":42},{"i":17,"j":37,"v":44},{"i":17,"j":38,"v":36},{"i":17,"j":39,"v":30},{"i":17,"j":40,"v":24},{"i":17,"j":41,"v":14},{"i":17,"j":42,"v":14},{"i":17,"j":43,"v":12},{"i":17,"j":44,"v":6},{"i":17,"j":45,"v":6},{"i":17,"j":46,"v":9},{"i":17,"j":47,"v":10},{"i":17,"j":48,"v":12},{"i":17,"j":49,"v":16},{"i":17,"j":50,"v":14},{"i":17,"j":51,"v":14},{"i":17,"j":52,"v":18},{"i":17,"j":53,"v":6},{"i":17,"j":54,"v":6},{"i":17,"j":55,"v":0},{"i":17,"j":56,"v":6},{"i":17,"j":57,"v":11},{"i":17,"j":58,"v":9},{"i":17,"j":59,"v":22},{"i":17,"j":60,"v":22},{"i":17,"j":61,"v":40},{"i":17,"j":62,"v":60},{"i":17,"j":63,"v":50},
{"i":18,"j":18,"v":100},{"i":18,"j":19,"v":72},{"i":18,"j":20,"v":44},{"i":18,"j":21,"v":24},{"i":18,"j":22,"v":14},{"i":18,"j":23,"v":14},{"i":18,"j":24,"v":14},{"i":18,"j":25,"v":14},{"i":18,"j":26,"v":26},{"i":18,"j":27,"v":42},{"i":18,"j":28,"v":52},{"i":18,"j":29,"v":46},{"i":18,"j":30,"v":28},{"i":18,"j":31,"v":22},{"i":18,"j":32,"v":26},{"i":18,"j":33,"v":38},{"i":18,"j":34,"v":36},{"i":18,"j":35,"v":24},{"i":18,"j":36,"v":24},{"i":18,"j":37,"v":28},{"i":18,"j":38,"v":30},{"i":18,"j":39,"v":28},{"i":18,"j":40,"v":18},{"i":18,"j":41,"v":14},{"i":18,"j":42,"v":12},{"i":18,"j":43,"v":12},{"i":18,"j":44,"v":10},{"i":18,"j":45,"v":8},{"i":18,"j":46,"v":9},{"i":18,"j":47,"v":10},{"i":18,"j":48,"v":12},{"i":18,"j":49,"v":24},{"i":18,"j":50,"v":16},{"i":18,"j":51,"v":18},{"i":18,"j":52,"v":26},{"i":18,"j":53,"v":13},{"i":18,"j":54,"v":13},{"i":18,"j":55,"v":5},{"i":18,"j":56,"v":10},{"i":18,"j":57,"v":14},{"i":18,"j":58,"v":16},{"i":18,"j":59,"v":28},{"i":18,"j":60,"v":20},{"i":18,"j":61,"v":20},{"i":18,"j":62,"v":42},{"i":18,"j":63,"v":60},
{"i":19,"j":19,"v":100},{"i":19,"j":20,"v":80},{"i":19,"j":21,"v":55},{"i":19,"j":22,"v":30},{"i":19,"j":23,"v":26},{"i":19,"j":24,"v":26},{"i":19,"j":25,"v":28},{"i":19,"j":26,"v":38},{"i":19,"j":27,"v":44},{"i":19,"j":28,"v":52},{"i":19,"j":29,"v":50},{"i":19,"j":30,"v":36},{"i":19,"j":31,"v":22},{"i":19,"j":32,"v":22},{"i":19,"j":33,"v":26},{"i":19,"j":34,"v":28},{"i":19,"j":35,"v":30},{"i":19,"j":36,"v":30},{"i":19,"j":37,"v":30},{"i":19,"j":38,"v":28},{"i":19,"j":39,"v":40},{"i":19,"j":40,"v":38},{"i":19,"j":41,"v":30},{"i":19,"j":42,"v":26},{"i":19,"j":43,"v":24},{"i":19,"j":44,"v":24},{"i":19,"j":45,"v":20},{"i":19,"j":46,"v":24},{"i":19,"j":47,"v":24},{"i":19,"j":48,"v":24},{"i":19,"j":49,"v":24},{"i":19,"j":50,"v":24},{"i":19,"j":51,"v":40},{"i":19,"j":52,"v":42},{"i":19,"j":53,"v":30},{"i":19,"j":54,"v":30},{"i":19,"j":55,"v":20},{"i":19,"j":56,"v":26},{"i":19,"j":57,"v":25},{"i":19,"j":58,"v":22},{"i":19,"j":59,"v":38},{"i":19,"j":60,"v":32},{"i":19,"j":61,"v":28},{"i":19,"j":62,"v":38},{"i":19,"j":63,"v":42},
{"i":20,"j":20,"v":100},{"i":20,"j":21,"v":78},{"i":20,"j":22,"v":50},{"i":20,"j":23,"v":36},{"i":20,"j":24,"v":30},{"i":20,"j":25,"v":36},{"i":20,"j":26,"v":44},{"i":20,"j":27,"v":46},{"i":20,"j":28,"v":60},{"i":20,"j":29,"v":50},{"i":20,"j":30,"v":38},{"i":20,"j":31,"v":30},{"i":20,"j":32,"v":22},{"i":20,"j":33,"v":22},{"i":20,"j":34,"v":16},{"i":20,"j":35,"v":16},{"i":20,"j":36,"v":30},{"i":20,"j":37,"v":32},{"i":20,"j":38,"v":33},{"i":20,"j":39,"v":28},{"i":20,"j":40,"v":42},{"i":20,"j":41,"v":36},{"i":20,"j":42,"v":26},{"i":20,"j":43,"v":24},{"i":20,"j":44,"v":24},{"i":20,"j":45,"v":18},{"i":20,"j":46,"v":26},{"i":20,"j":47,"v":24},{"i":20,"j":48,"v":24},{"i":20,"j":49,"v":28},{"i":20,"j":50,"v":24},{"i":20,"j":51,"v":40},{"i":20,"j":52,"v":60},{"i":20,"j":53,"v":44},{"i":20,"j":54,"v":44},{"i":20,"j":55,"v":32},{"i":20,"j":56,"v":42},{"i":20,"j":57,"v":32},{"i":20,"j":58,"v":28},{"i":20,"j":59,"v":42},{"i":20,"j":60,"v":38},{"i":20,"j":61,"v":32},{"i":20,"j":62,"v":32},{"i":20,"j":63,"v":32},
{"i":21,"j":21,"v":100},{"i":21,"j":22,"v":78},{"i":21,"j":23,"v":60},{"i":21,"j":24,"v":42},{"i":21,"j":25,"v":32},{"i":21,"j":26,"v":40},{"i":21,"j":27,"v":36},{"i":21,"j":28,"v":58},{"i":21,"j":29,"v":38},{"i":21,"j":30,"v":32},{"i":21,"j":31,"v":27},{"i":21,"j":32,"v":24},{"i":21,"j":33,"v":22},{"i":21,"j":34,"v":16},{"i":21,"j":35,"v":14},{"i":21,"j":36,"v":28},{"i":21,"j":37,"v":36},{"i":21,"j":38,"v":38},{"i":21,"j":39,"v":30},{"i":21,"j":40,"v":40},{"i":21,"j":41,"v":40},{"i":21,"j":42,"v":34},{"i":21,"j":43,"v":30},{"i":21,"j":44,"v":24},{"i":21,"j":45,"v":24},{"i":21,"j":46,"v":30},{"i":21,"j":47,"v":34},{"i":21,"j":48,"v":44},{"i":21,"j":49,"v":46},{"i":21,"j":50,"v":34},{"i":21,"j":51,"v":44},{"i":21,"j":52,"v":72},{"i":21,"j":53,"v":72},{"i":21,"j":54,"v":68},{"i":21,"j":55,"v":55},{"i":21,"j":56,"v":60},{"i":21,"j":57,"v":54},{"i":21,"j":58,"v":44},{"i":21,"j":59,"v":44},{"i":21,"j":60,"v":30},{"i":21,"j":61,"v":24},{"i":21,"j":62,"v":15},{"i":21,"j":63,"v":24},
{"i":22,"j":22,"v":100},{"i":22,"j":23,"v":87},{"i":22,"j":24,"v":72},{"i":22,"j":25,"v":40},{"i":22,"j":26,"v":42},{"i":22,"j":27,"v":34},{"i":22,"j":28,"v":34},{"i":22,"j":29,"v":22},{"i":22,"j":30,"v":30},{"i":22,"j":31,"v":20},{"i":22,"j":32,"v":20},{"i":22,"j":33,"v":18},{"i":22,"j":34,"v":18},{"i":22,"j":35,"v":28},{"i":22,"j":36,"v":28},{"i":22,"j":37,"v":28},{"i":22,"j":38,"v":28},{"i":22,"j":39,"v":24},{"i":22,"j":40,"v":28},{"i":22,"j":41,"v":42},{"i":22,"j":42,"v":44},{"i":22,"j":43,"v":55},{"i":22,"j":44,"v":50},{"i":22,"j":45,"v":47},{"i":22,"j":46,"v":48},{"i":22,"j":47,"v":58},{"i":22,"j":48,"v":67},{"i":22,"j":49,"v":78},{"i":22,"j":50,"v":68},{"i":22,"j":51,"v":32},{"i":22,"j":52,"v":30},{"i":22,"j":53,"v":48},{"i":22,"j":54,"v":76},{"i":22,"j":55,"v":78},{"i":22,"j":56,"v":82},{"i":22,"j":57,"v":78},{"i":22,"j":58,"v":70},{"i":22,"j":59,"v":68},{"i":22,"j":60,"v":42},{"i":22,"j":61,"v":30},{"i":22,"j":62,"v":20},{"i":22,"j":63,"v":14},
{"i":23,"j":23,"v":100},{"i":23,"j":24,"v":90},{"i":23,"j":25,"v":50},{"i":23,"j":26,"v":42},{"i":23,"j":27,"v":34},{"i":23,"j":28,"v":30},{"i":23,"j":29,"v":24},{"i":23,"j":30,"v":28},{"i":23,"j":31,"v":18},{"i":23,"j":32,"v":15},{"i":23,"j":33,"v":12},{"i":23,"j":34,"v":15},{"i":23,"j":35,"v":24},{"i":23,"j":36,"v":20},{"i":23,"j":37,"v":20},{"i":23,"j":38,"v":26},{"i":23,"j":39,"v":24},{"i":23,"j":40,"v":22},{"i":23,"j":41,"v":22},{"i":23,"j":42,"v":42},{"i":23,"j":43,"v":54},{"i":23,"j":44,"v":52},{"i":23,"j":45,"v":50},{"i":23,"j":46,"v":50},{"i":23,"j":47,"v":64},{"i":23,"j":48,"v":88},{"i":23,"j":49,"v":84},{"i":23,"j":50,"v":38},{"i":23,"j":51,"v":30},{"i":23,"j":52,"v":38},{"i":23,"j":53,"v":68},{"i":23,"j":54,"v":66},{"i":23,"j":55,"v":74},{"i":23,"j":56,"v":72},{"i":23,"j":57,"v":76},{"i":23,"j":58,"v":80},{"i":23,"j":59,"v":50},{"i":23,"j":60,"v":32},{"i":23,"j":61,"v":22},{"i":23,"j":62,"v":12},{"i":23,"j":63,"v":12},
{"i":24,"j":24,"v":100},{"i":24,"j":25,"v":68},{"i":24,"j":26,"v":55},{"i":24,"j":27,"v":32},{"i":24,"j":28,"v":32},{"i":24,"j":29,"v":30},{"i":24,"j":30,"v":30},{"i":24,"j":31,"v":15},{"i":24,"j":32,"v":7},{"i":24,"j":33,"v":7},{"i":24,"j":34,"v":18},{"i":24,"j":35,"v":25},{"i":24,"j":36,"v":17},{"i":24,"j":37,"v":12},{"i":24,"j":38,"v":24},{"i":24,"j":39,"v":24},{"i":24,"j":40,"v":22},{"i":24,"j":41,"v":22},{"i":24,"j":42,"v":36},{"i":24,"j":43,"v":45},{"i":24,"j":44,"v":44},{"i":24,"j":45,"v":40},{"i":24,"j":46,"v":44},{"i":24,"j":47,"v":52},{"i":24,"j":48,"v":64},{"i":24,"j":49,"v":80},{"i":24,"j":50,"v":46},{"i":24,"j":51,"v":32},{"i":24,"j":52,"v":30},{"i":24,"j":53,"v":54},{"i":24,"j":54,"v":60},{"i":24,"j":55,"v":66},{"i":24,"j":56,"v":60},{"i":24,"j":57,"v":66},{"i":24,"j":58,"v":74},{"i":24,"j":59,"v":66},{"i":24,"j":60,"v":44},{"i":24,"j":61,"v":24},{"i":24,"j":62,"v":10},{"i":24,"j":63,"v":10},
{"i":25,"j":25,"v":100},{"i":25,"j":26,"v":88},{"i":25,"j":27,"v":42},{"i":25,"j":28,"v":34},{"i":25,"j":29,"v":34},{"i":25,"j":30,"v":34},{"i":25,"j":31,"v":24},{"i":25,"j":32,"v":10},{"i":25,"j":33,"v":4},{"i":25,"j":34,"v":14},{"i":25,"j":35,"v":22},{"i":25,"j":36,"v":16},{"i":25,"j":37,"v":10},{"i":25,"j":38,"v":9},{"i":25,"j":39,"v":18},{"i":25,"j":40,"v":18},{"i":25,"j":41,"v":12},{"i":25,"j":42,"v":10},{"i":25,"j":43,"v":15},{"i":25,"j":44,"v":18},{"i":25,"j":45,"v":12},{"i":25,"j":46,"v":16},{"i":25,"j":47,"v":16},{"i":25,"j":48,"v":30},{"i":25,"j":49,"v":44},{"i":25,"j":50,"v":62},{"i":25,"j":51,"v":44},{"i":25,"j":52,"v":28},{"i":25,"j":53,"v":34},{"i":25,"j":54,"v":34},{"i":25,"j":55,"v":34},{"i":25,"j":56,"v":36},{"i":25,"j":57,"v":40},{"i":25,"j":58,"v":44},{"i":25,"j":59,"v":58},{"i":25,"j":60,"v":62},{"i":25,"j":61,"v":54},{"i":25,"j":62,"v":38},{"i":25,"j":63,"v":28},
{"i":26,"j":26,"v":100},{"i":26,"j":27,"v":64},{"i":26,"j":28,"v":44},{"i":26,"j":29,"v":32},{"i":26,"j":30,"v":28},{"i":26,"j":31,"v":25},{"i":26,"j":32,"v":20},{"i":26,"j":33,"v":8},{"i":26,"j":34,"v":8},{"i":26,"j":35,"v":18},{"i":26,"j":36,"v":24},{"i":26,"j":37,"v":18},{"i":26,"j":38,"v":8},{"i":26,"j":39,"v":8},{"i":26,"j":40,"v":14},{"i":26,"j":41,"v":14},{"i":26,"j":42,"v":12},{"i":26,"j":43,"v":13},{"i":26,"j":44,"v":12},{"i":26,"j":45,"v":10},{"i":26,"j":46,"v":12},{"i":26,"j":47,"v":14},{"i":26,"j":48,"v":28},{"i":26,"j":49,"v":38},{"i":26,"j":50,"v":58},{"i":26,"j":51,"v":52},{"i":26,"j":52,"v":36},{"i":26,"j":53,"v":34},{"i":26,"j":54,"v":34},{"i":26,"j":55,"v":32},{"i":26,"j":56,"v":36},{"i":26,"j":57,"v":36},{"i":26,"j":58,"v":38},{"i":26,"j":59,"v":52},{"i":26,"j":60,"v":62},{"i":26,"j":61,"v":68},{"i":26,"j":62,"v":48},{"i":26,"j":63,"v":38},
{"i":27,"j":27,"v":100},{"i":27,"j":28,"v":78},{"i":27,"j":29,"v":52},{"i":27,"j":30,"v":44},{"i":27,"j":31,"v":36},{"i":27,"j":32,"v":38},{"i":27,"j":33,"v":30},{"i":27,"j":34,"v":26},{"i":27,"j":35,"v":28},{"i":27,"j":36,"v":32},{"i":27,"j":37,"v":28},{"i":27,"j":38,"v":24},{"i":27,"j":39,"v":14},{"i":27,"j":40,"v":10},{"i":27,"j":41,"v":10},{"i":27,"j":42,"v":12},{"i":27,"j":43,"v":15},{"i":27,"j":44,"v":14},{"i":27,"j":45,"v":10},{"i":27,"j":46,"v":12},{"i":27,"j":47,"v":14},{"i":27,"j":48,"v":24},{"i":27,"j":49,"v":33},{"i":27,"j":50,"v":42},{"i":27,"j":51,"v":42},{"i":27,"j":52,"v":46},{"i":27,"j":53,"v":26},{"i":27,"j":54,"v":26},{"i":27,"j":55,"v":18},{"i":27,"j":56,"v":32},{"i":27,"j":57,"v":36},{"i":27,"j":58,"v":38},{"i":27,"j":59,"v":46},{"i":27,"j":60,"v":46},{"i":27,"j":61,"v":52},{"i":27,"j":62,"v":60},{"i":27,"j":63,"v":56},
{"i":28,"j":28,"v":100},{"i":28,"j":29,"v":84},{"i":28,"j":30,"v":67},{"i":28,"j":31,"v":55},{"i":28,"j":32,"v":62},{"i":28,"j":33,"v":60},{"i":28,"j":34,"v":58},{"i":28,"j":35,"v":48},{"i":28,"j":36,"v":58},{"i":28,"j":37,"v":58},{"i":28,"j":38,"v":56},{"i":28,"j":39,"v":40},{"i":28,"j":40,"v":30},{"i":28,"j":41,"v":18},{"i":28,"j":42,"v":13},{"i":28,"j":43,"v":14},{"i":28,"j":44,"v":14},{"i":28,"j":45,"v":8},{"i":28,"j":46,"v":10},{"i":28,"j":47,"v":14},{"i":28,"j":48,"v":26},{"i":28,"j":49,"v":34},{"i":28,"j":50,"v":32},{"i":28,"j":51,"v":33},{"i":28,"j":52,"v":46},{"i":28,"j":53,"v":36},{"i":28,"j":54,"v":38},{"i":28,"j":55,"v":24},{"i":28,"j":56,"v":34},{"i":28,"j":57,"v":38},{"i":28,"j":58,"v":42},{"i":28,"j":59,"v":60},{"i":28,"j":60,"v":50},{"i":28,"j":61,"v":34},{"i":28,"j":62,"v":40},{"i":28,"j":63,"v":44},
{"i":29,"j":29,"v":100},{"i":29,"j":30,"v":85},{"i":29,"j":31,"v":62},{"i":29,"j":32,"v":62},{"i":29,"j":33,"v":62},{"i":29,"j":34,"v":68},{"i":29,"j":35,"v":68},{"i":29,"j":36,"v":52},{"i":29,"j":37,"v":45},{"i":29,"j":38,"v":45},{"i":29,"j":39,"v":48},{"i":29,"j":40,"v":48},{"i":29,"j":41,"v":36},{"i":29,"j":42,"v":13},{"i":29,"j":43,"v":13},{"i":29,"j":44,"v":16},{"i":29,"j":45,"v":9},{"i":29,"j":46,"v":9},{"i":29,"j":47,"v":10},{"i":29,"j":48,"v":26},{"i":29,"j":49,"v":34},{"i":29,"j":50,"v":36},{"i":29,"j":51,"v":34},{"i":29,"j":52,"v":34},{"i":29,"j":53,"v":28},{"i":29,"j":54,"v":30},{"i":29,"j":55,"v":24},{"i":29,"j":56,"v":26},{"i":29,"j":57,"v":24},{"i":29,"j":58,"v":30},{"i":29,"j":59,"v":62},{"i":29,"j":60,"v":60},{"i":29,"j":61,"v":34},{"i":29,"j":62,"v":34},{"i":29,"j":63,"v":42},
{"i":30,"j":30,"v":100},{"i":30,"j":31,"v":90},{"i":30,"j":32,"v":72},{"i":30,"j":33,"v":66},{"i":30,"j":34,"v":84},{"i":30,"j":35,"v":90},{"i":30,"j":36,"v":78},{"i":30,"j":37,"v":62},{"i":30,"j":38,"v":60},{"i":30,"j":39,"v":62},{"i":30,"j":40,"v":46},{"i":30,"j":41,"v":32},{"i":30,"j":42,"v":26},{"i":30,"j":43,"v":24},{"i":30,"j":44,"v":25},{"i":30,"j":45,"v":22},{"i":30,"j":46,"v":24},{"i":30,"j":47,"v":22},{"i":30,"j":48,"v":26},{"i":30,"j":49,"v":36},{"i":30,"j":50,"v":40},{"i":30,"j":51,"v":26},{"i":30,"j":52,"v":26},{"i":30,"j":53,"v":30},{"i":30,"j":54,"v":42},{"i":30,"j":55,"v":32},{"i":30,"j":56,"v":32},{"i":30,"j":57,"v":33},{"i":30,"j":58,"v":30},{"i":30,"j":59,"v":46},{"i":30,"j":60,"v":46},{"i":30,"j":61,"v":36},{"i":30,"j":62,"v":22},{"i":30,"j":63,"v":22},
{"i":31,"j":31,"v":100},{"i":31,"j":32,"v":92},{"i":31,"j":33,"v":76},{"i":31,"j":34,"v":76},{"i":31,"j":35,"v":76},{"i":31,"j":36,"v":84},{"i":31,"j":37,"v":86},{"i":31,"j":38,"v":68},{"i":31,"j":39,"v":58},{"i":31,"j":40,"v":48},{"i":31,"j":41,"v":40},{"i":31,"j":42,"v":26},{"i":31,"j":43,"v":18},{"i":31,"j":44,"v":20},{"i":31,"j":45,"v":12},{"i":31,"j":46,"v":18},{"i":31,"j":47,"v":13},{"i":31,"j":48,"v":14},{"i":31,"j":49,"v":22},{"i":31,"j":50,"v":32},{"i":31,"j":51,"v":16},{"i":31,"j":52,"v":22},{"i":31,"j":53,"v":22},{"i":31,"j":54,"v":22},{"i":31,"j":55,"v":18},{"i":31,"j":56,"v":28},{"i":31,"j":57,"v":32},{"i":31,"j":58,"v":22},{"i":31,"j":59,"v":34},{"i":31,"j":60,"v":44},{"i":31,"j":61,"v":44},{"i":31,"j":62,"v":36},{"i":31,"j":63,"v":24},
{"i":32,"j":32,"v":100},{"i":32,"j":33,"v":90},{"i":32,"j":34,"v":82},{"i":32,"j":35,"v":76},{"i":32,"j":36,"v":90},{"i":32,"j":37,"v":88},{"i":32,"j":38,"v":70},{"i":32,"j":39,"v":54},{"i":32,"j":40,"v":46},{"i":32,"j":41,"v":28},{"i":32,"j":42,"v":26},{"i":32,"j":43,"v":18},{"i":32,"j":44,"v":17},{"i":32,"j":45,"v":10},{"i":32,"j":46,"v":15},{"i":32,"j":47,"v":12},{"i":32,"j":48,"v":12},{"i":32,"j":49,"v":20},{"i":32,"j":50,"v":20},{"i":32,"j":51,"v":14},{"i":32,"j":52,"v":24},{"i":32,"j":53,"v":24},{"i":32,"j":54,"v":20},{"i":32,"j":55,"v":14},{"i":32,"j":56,"v":22},{"i":32,"j":57,"v":30},{"i":32,"j":58,"v":24},{"i":32,"j":59,"v":24},{"i":32,"j":60,"v":28},{"i":32,"j":61,"v":38},{"i":32,"j":62,"v":36},{"i":32,"j":63,"v":24},
{"i":33,"j":33,"v":100},{"i":33,"j":34,"v":90},{"i":33,"j":35,"v":80},{"i":33,"j":36,"v":84},{"i":33,"j":37,"v":85},{"i":33,"j":38,"v":85},{"i":33,"j":39,"v":66},{"i":33,"j":40,"v":46},{"i":33,"j":41,"v":30},{"i":33,"j":42,"v":24},{"i":33,"j":43,"v":24},{"i":33,"j":44,"v":24},{"i":33,"j":45,"v":14},{"i":33,"j":46,"v":22},{"i":33,"j":47,"v":20},{"i":33,"j":48,"v":20},{"i":33,"j":49,"v":26},{"i":33,"j":50,"v":18},{"i":33,"j":51,"v":12},{"i":33,"j":52,"v":26},{"i":33,"j":53,"v":26},{"i":33,"j":54,"v":14},{"i":33,"j":55,"v":12},{"i":33,"j":56,"v":14},{"i":33,"j":57,"v":26},{"i":33,"j":58,"v":22},{"i":33,"j":59,"v":28},{"i":33,"j":60,"v":14},{"i":33,"j":61,"v":12},{"i":33,"j":62,"v":26},{"i":33,"j":63,"v":22},
{"i":34,"j":34,"v":100},{"i":34,"j":35,"v":92},{"i":34,"j":36,"v":84},{"i":34,"j":37,"v":76},{"i":34,"j":38,"v":84},{"i":34,"j":39,"v":74},{"i":34,"j":40,"v":56},{"i":34,"j":41,"v":30},{"i":34,"j":42,"v":18},{"i":34,"j":43,"v":18},{"i":34,"j":44,"v":24},{"i":34,"j":45,"v":14},{"i":34,"j":46,"v":16},{"i":34,"j":47,"v":14},{"i":34,"j":48,"v":16},{"i":34,"j":49,"v":30},{"i":34,"j":50,"v":24},{"i":34,"j":51,"v":6},{"i":34,"j":52,"v":18},{"i":34,"j":53,"v":26},{"i":34,"j":54,"v":28},{"i":34,"j":55,"v":14},{"i":34,"j":56,"v":14},{"i":34,"j":57,"v":26},{"i":34,"j":58,"v":22},{"i":34,"j":59,"v":40},{"i":34,"j":60,"v":32},{"i":34,"j":61,"v":18},{"i":34,"j":62,"v":20},{"i":34,"j":63,"v":26},
{"i":35,"j":35,"v":100},{"i":35,"j":36,"v":88},{"i":35,"j":37,"v":76},{"i":35,"j":38,"v":74},{"i":35,"j":39,"v":72},{"i":35,"j":40,"v":64},{"i":35,"j":41,"v":38},{"i":35,"j":42,"v":26},{"i":35,"j":43,"v":24},{"i":35,"j":44,"v":32},{"i":35,"j":45,"v":24},{"i":35,"j":46,"v":28},{"i":35,"j":47,"v":28},{"i":35,"j":48,"v":30},{"i":35,"j":49,"v":38},{"i":35,"j":50,"v":38},{"i":35,"j":51,"v":16},{"i":35,"j":52,"v":24},{"i":35,"j":53,"v":24},{"i":35,"j":54,"v":32},{"i":35,"j":55,"v":26},{"i":35,"j":56,"v":26},{"i":35,"j":57,"v":26},{"i":35,"j":58,"v":20},{"i":35,"j":59,"v":38},{"i":35,"j":60,"v":38},{"i":35,"j":61,"v":28},{"i":35,"j":62,"v":14},{"i":35,"j":63,"v":14},
{"i":36,"j":36,"v":100},{"i":36,"j":37,"v":94},{"i":36,"j":38,"v":82},{"i":36,"j":39,"v":70},{"i":36,"j":40,"v":64},{"i":36,"j":41,"v":42},{"i":36,"j":42,"v":36},{"i":36,"j":43,"v":26},{"i":36,"j":44,"v":30},{"i":36,"j":45,"v":20},{"i":36,"j":46,"v":24},{"i":36,"j":47,"v":20},{"i":36,"j":48,"v":24},{"i":36,"j":49,"v":32},{"i":36,"j":50,"v":32},{"i":36,"j":51,"v":15},{"i":36,"j":52,"v":32},{"i":36,"j":53,"v":30},{"i":36,"j":54,"v":30},{"i":36,"j":55,"v":20},{"i":36,"j":56,"v":24},{"i":36,"j":57,"v":28},{"i":36,"j":58,"v":18},{"i":36,"j":59,"v":28},{"i":36,"j":60,"v":28},{"i":36,"j":61,"v":28},{"i":36,"j":62,"v":22},{"i":36,"j":63,"v":14},
{"i":37,"j":37,"v":100},{"i":37,"j":38,"v":90},{"i":37,"j":39,"v":76},{"i":37,"j":40,"v":70},{"i":37,"j":41,"v":42},{"i":37,"j":42,"v":40},{"i":37,"j":43,"v":28},{"i":37,"j":44,"v":26},{"i":37,"j":45,"v":18},{"i":37,"j":46,"v":24},{"i":37,"j":47,"v":18},{"i":37,"j":48,"v":20},{"i":37,"j":49,"v":30},{"i":37,"j":50,"v":12},{"i":37,"j":51,"v":8},{"i":37,"j":52,"v":30},{"i":37,"j":53,"v":30},{"i":37,"j":54,"v":26},{"i":37,"j":55,"v":12},{"i":37,"j":56,"v":22},{"i":37,"j":57,"v":30},{"i":37,"j":58,"v":20},{"i":37,"j":59,"v":28},{"i":37,"j":60,"v":22},{"i":37,"j":61,"v":24},{"i":37,"j":62,"v":22},{"i":37,"j":63,"v":8},
{"i":38,"j":38,"v":100},{"i":38,"j":39,"v":88},{"i":38,"j":40,"v":70},{"i":38,"j":41,"v":42},{"i":38,"j":42,"v":40},{"i":38,"j":43,"v":34},{"i":38,"j":44,"v":34},{"i":38,"j":45,"v":22},{"i":38,"j":46,"v":30},{"i":38,"j":47,"v":28},{"i":38,"j":48,"v":30},{"i":38,"j":49,"v":40},{"i":38,"j":50,"v":24},{"i":38,"j":51,"v":6},{"i":38,"j":52,"v":28},{"i":38,"j":53,"v":30},{"i":38,"j":54,"v":24},{"i":38,"j":55,"v":12},{"i":38,"j":56,"v":14},{"i":38,"j":57,"v":30},{"i":38,"j":58,"v":26},{"i":38,"j":59,"v":34},{"i":38,"j":60,"v":20},{"i":38,"j":61,"v":14},{"i":38,"j":62,"v":14},{"i":38,"j":63,"v":18},
{"i":39,"j":39,"v":100},{"i":39,"j":40,"v":88},{"i":39,"j":41,"v":56},{"i":39,"j":42,"v":42},{"i":39,"j":43,"v":38},{"i":39,"j":44,"v":40},{"i":39,"j":45,"v":28},{"i":39,"j":46,"v":28},{"i":39,"j":47,"v":24},{"i":39,"j":48,"v":26},{"i":39,"j":49,"v":38},{"i":39,"j":50,"v":24},{"i":39,"j":51,"v":9},{"i":39,"j":52,"v":22},{"i":39,"j":53,"v":28},{"i":39,"j":54,"v":22},{"i":39,"j":55,"v":16},{"i":39,"j":56,"v":16},{"i":39,"j":57,"v":14},{"i":39,"j":58,"v":10},{"i":39,"j":59,"v":28},{"i":39,"j":60,"v":20},{"i":39,"j":61,"v":10},{"i":39,"j":62,"v":6},{"i":39,"j":63,"v":10},
{"i":40,"j":40,"v":100},{"i":40,"j":41,"v":76},{"i":40,"j":42,"v":64},{"i":40,"j":43,"v":52},{"i":40,"j":44,"v":54},{"i":40,"j":45,"v":44},{"i":40,"j":46,"v":42},{"i":40,"j":47,"v":26},{"i":40,"j":48,"v":26},{"i":40,"j":49,"v":38},{"i":40,"j":50,"v":26},{"i":40,"j":51,"v":16},{"i":40,"j":52,"v":22},{"i":40,"j":53,"v":28},{"i":40,"j":54,"v":26},{"i":40,"j":55,"v":16},{"i":40,"j":56,"v":16},{"i":40,"j":57,"v":14},{"i":40,"j":58,"v":6},{"i":40,"j":59,"v":15},{"i":40,"j":60,"v":14},{"i":40,"j":61,"v":12},{"i":40,"j":62,"v":6},{"i":40,"j":63,"v":2},
{"i":41,"j":41,"v":100},{"i":41,"j":42,"v":92},{"i":41,"j":43,"v":82},{"i":41,"j":44,"v":77},{"i":41,"j":45,"v":72},{"i":41,"j":46,"v":70},{"i":41,"j":47,"v":60},{"i":41,"j":48,"v":48},{"i":41,"j":49,"v":40},{"i":41,"j":50,"v":27},{"i":41,"j":51,"v":30},{"i":41,"j":52,"v":32},{"i":41,"j":53,"v":32},{"i":41,"j":54,"v":40},{"i":41,"j":55,"v":30},{"i":41,"j":56,"v":28},{"i":41,"j":57,"v":24},{"i":41,"j":58,"v":12},{"i":41,"j":59,"v":12},{"i":41,"j":60,"v":10},{"i":41,"j":61,"v":10},{"i":41,"j":62,"v":8},{"i":41,"j":63,"v":6},
{"i":42,"j":42,"v":100},{"i":42,"j":43,"v":92},{"i":42,"j":44,"v":90},{"i":42,"j":45,"v":88},{"i":42,"j":46,"v":85},{"i":42,"j":47,"v":70},{"i":42,"j":48,"v":60},{"i":42,"j":49,"v":42},{"i":42,"j":50,"v":26},{"i":42,"j":51,"v":30},{"i":42,"j":52,"v":28},{"i":42,"j":53,"v":38},{"i":42,"j":54,"v":44},{"i":42,"j":55,"v":40},{"i":42,"j":56,"v":36},{"i":42,"j":57,"v":26},{"i":42,"j":58,"v":18},{"i":42,"j":59,"v":14},{"i":42,"j":60,"v":10},{"i":42,"j":61,"v":10},{"i":42,"j":62,"v":4},{"i":42,"j":63,"v":1},
{"i":43,"j":43,"v":100},{"i":43,"j":44,"v":92},{"i":43,"j":45,"v":90},{"i":43,"j":46,"v":88},{"i":43,"j":47,"v":76},{"i":43,"j":48,"v":62},{"i":43,"j":49,"v":46},{"i":43,"j":50,"v":30},{"i":43,"j":51,"v":30},{"i":43,"j":52,"v":28},{"i":43,"j":53,"v":38},{"i":43,"j":54,"v":50},{"i":43,"j":55,"v":50},{"i":43,"j":56,"v":42},{"i":43,"j":57,"v":32},{"i":43,"j":58,"v":28},{"i":43,"j":59,"v":22},{"i":43,"j":60,"v":12},{"i":43,"j":61,"v":10},{"i":43,"j":62,"v":6},{"i":43,"j":63,"v":3},
{"i":44,"j":44,"v":100},{"i":44,"j":45,"v":92},{"i":44,"j":46,"v":88},{"i":44,"j":47,"v":80},{"i":44,"j":48,"v":66},{"i":44,"j":49,"v":48},{"i":44,"j":50,"v":30},{"i":44,"j":51,"v":26},{"i":44,"j":52,"v":20},{"i":44,"j":53,"v":38},{"i":44,"j":54,"v":50},{"i":44,"j":55,"v":48},{"i":44,"j":56,"v":38},{"i":44,"j":57,"v":30},{"i":44,"j":58,"v":22},{"i":44,"j":59,"v":18},{"i":44,"j":60,"v":14},{"i":44,"j":61,"v":10},{"i":44,"j":62,"v":3},{"i":44,"j":63,"v":4},
{"i":45,"j":45,"v":100},{"i":45,"j":46,"v":92},{"i":45,"j":47,"v":85},{"i":45,"j":48,"v":66},{"i":45,"j":49,"v":46},{"i":45,"j":50,"v":28},{"i":45,"j":51,"v":28},{"i":45,"j":52,"v":22},{"i":45,"j":53,"v":36},{"i":45,"j":54,"v":48},{"i":45,"j":55,"v":48},{"i":45,"j":56,"v":36},{"i":45,"j":57,"v":26},{"i":45,"j":58,"v":14},{"i":45,"j":59,"v":12},{"i":45,"j":60,"v":10},{"i":45,"j":61,"v":6},{"i":45,"j":62,"v":0},{"i":45,"j":63,"v":0},
{"i":46,"j":46,"v":100},{"i":46,"j":47,"v":92},{"i":46,"j":48,"v":76},{"i":46,"j":49,"v":54},{"i":46,"j":50,"v":30},{"i":46,"j":51,"v":28},{"i":46,"j":52,"v":24},{"i":46,"j":53,"v":36},{"i":46,"j":54,"v":44},{"i":46,"j":55,"v":46},{"i":46,"j":56,"v":38},{"i":46,"j":57,"v":28},{"i":46,"j":58,"v":20},{"i":46,"j":59,"v":12},{"i":46,"j":60,"v":10},{"i":46,"j":61,"v":8},{"i":46,"j":62,"v":2},{"i":46,"j":63,"v":0},
{"i":47,"j":47,"v":100},{"i":47,"j":48,"v":88},{"i":47,"j":49,"v":60},{"i":47,"j":50,"v":30},{"i":47,"j":51,"v":28},{"i":47,"j":52,"v":26},{"i":47,"j":53,"v":38},{"i":47,"j":54,"v":46},{"i":47,"j":55,"v":50},{"i":47,"j":56,"v":38},{"i":47,"j":57,"v":30},{"i":47,"j":58,"v":28},{"i":47,"j":59,"v":10},{"i":47,"j":60,"v":8},{"i":47,"j":61,"v":6},{"i":47,"j":62,"v":0},{"i":47,"j":63,"v":0},
{"i":48,"j":48,"v":100},{"i":48,"j":49,"v":84},{"i":48,"j":50,"v":42},{"i":48,"j":51,"v":34},{"i":48,"j":52,"v":28},{"i":48,"j":53,"v":42},{"i":48,"j":54,"v":46},{"i":48,"j":55,"v":52},{"i":48,"j":56,"v":42},{"i":48,"j":57,"v":42},{"i":48,"j":58,"v":44},{"i":48,"j":59,"v":26},{"i":48,"j":60,"v":16},{"i":48,"j":61,"v":12},{"i":48,"j":62,"v":5},{"i":48,"j":63,"v":5},
{"i":49,"j":49,"v":100},{"i":49,"j":50,"v":64},{"i":49,"j":51,"v":42},{"i":49,"j":52,"v":32},{"i":49,"j":53,"v":44},{"i":49,"j":54,"v":46},{"i":49,"j":55,"v":46},{"i":49,"j":56,"v":42},{"i":49,"j":57,"v":42},{"i":49,"j":58,"v":56},{"i":49,"j":59,"v":50},{"i":49,"j":60,"v":34},{"i":49,"j":61,"v":24},{"i":49,"j":62,"v":15},{"i":49,"j":63,"v":16},
{"i":50,"j":50,"v":100},{"i":50,"j":51,"v":75},{"i":50,"j":52,"v":46},{"i":50,"j":53,"v":28},{"i":50,"j":54,"v":34},{"i":50,"j":55,"v":30},{"i":50,"j":56,"v":24},{"i":50,"j":57,"v":24},{"i":50,"j":58,"v":22},{"i":50,"j":59,"v":30},{"i":50,"j":60,"v":42},{"i":50,"j":61,"v":34},{"i":50,"j":62,"v":26},{"i":50,"j":63,"v":25},
{"i":51,"j":51,"v":100},{"i":51,"j":52,"v":65},{"i":51,"j":53,"v":38},{"i":51,"j":54,"v":36},{"i":51,"j":55,"v":28},{"i":51,"j":56,"v":22},{"i":51,"j":57,"v":18},{"i":51,"j":58,"v":12},{"i":51,"j":59,"v":18},{"i":51,"j":60,"v":20},{"i":51,"j":61,"v":22},{"i":51,"j":62,"v":24},{"i":51,"j":63,"v":22},
{"i":52,"j":52,"v":100},{"i":52,"j":53,"v":68},{"i":52,"j":54,"v":55},{"i":52,"j":55,"v":32},{"i":52,"j":56,"v":34},{"i":52,"j":57,"v":34},{"i":52,"j":58,"v":26},{"i":52,"j":59,"v":22},{"i":52,"j":60,"v":22},{"i":52,"j":61,"v":20},{"i":52,"j":62,"v":22},{"i":52,"j":63,"v":30},
{"i":53,"j":53,"v":100},{"i":53,"j":54,"v":88},{"i":53,"j":55,"v":80},{"i":53,"j":56,"v":74},{"i":53,"j":57,"v":64},{"i":53,"j":58,"v":50},{"i":53,"j":59,"v":36},{"i":53,"j":60,"v":28},{"i":53,"j":61,"v":20},{"i":53,"j":62,"v":14},{"i":53,"j":63,"v":12},
{"i":54,"j":54,"v":100},{"i":54,"j":55,"v":92},{"i":54,"j":56,"v":88},{"i":54,"j":57,"v":82},{"i":54,"j":58,"v":64},{"i":54,"j":59,"v":50},{"i":54,"j":60,"v":34},{"i":54,"j":61,"v":28},{"i":54,"j":62,"v":12},{"i":54,"j":63,"v":12},
{"i":55,"j":55,"v":100},{"i":55,"j":56,"v":95},{"i":55,"j":57,"v":84},{"i":55,"j":58,"v":72},{"i":55,"j":59,"v":66},{"i":55,"j":60,"v":36},{"i":55,"j":61,"v":20},{"i":55,"j":62,"v":8},{"i":55,"j":63,"v":4},
{"i":56,"j":56,"v":100},{"i":56,"j":57,"v":90},{"i":56,"j":58,"v":78},{"i":56,"j":59,"v":52},{"i":56,"j":60,"v":34},{"i":56,"j":61,"v":22},{"i":56,"j":62,"v":18},{"i":56,"j":63,"v":12},
{"i":57,"j":57,"v":100},{"i":57,"j":58,"v":90},{"i":57,"j":59,"v":68},{"i":57,"j":60,"v":46},{"i":57,"j":61,"v":28},{"i":57,"j":62,"v":24},{"i":57,"j":63,"v":20},
{"i":58,"j":58,"v":100},{"i":58,"j":59,"v":90},{"i":58,"j":60,"v":70},{"i":58,"j":61,"v":42},{"i":58,"j":62,"v":26},{"i":58,"j":63,"v":24},
{"i":59,"j":59,"v":100},{"i":59,"j":60,"v":82},{"i":59,"j":61,"v":56},{"i":59,"j":62,"v":40},{"i":59,"j":63,"v":36},
{"i":60,"j":60,"v":100},{"i":60,"j":61,"v":80},{"i":60,"j":62,"v":58},{"i":60,"j":63,"v":38},
{"i":61,"j":61,"v":100},{"i":61,"j":62,"v":76},{"i":61,"j":63,"v":52},
{"i":62,"j":62,"v":100},{"i":62,"j":63,"v":80},
{"i":63,"j":63,"v":100}
]},
"layer":[
{"mark":{"type":"rect","width":15.6,"height":15.6,"clip":true},"encoding":{"x":{"field":"j","type":"quantitative","scale":{"domain":[-0.5,63.5],"nice":false,"zero":false},"axis":{"title":null,"grid":false,"domain":false,"tickColor":"#000","tickWidth":1.4,"tickSize":6,"labelFont":"DejaVu Sans","labelFontSize":17.4,"labelColor":"#000","labelPadding":5,"labelAngle":0,"labelOverlap":false,"labelFlush":false,"values":[7,16.5,20.5,24,33.5,43.5,48.5,54,60],"labelExpr":"{'7':'0','16.5':'29','20.5':'31','24':'4','33.5':'35','43.5':'36','48.5':'19','54':'27','60':'4'}[datum.value]"}},"y":{"field":"i","type":"quantitative","scale":{"domain":[-0.5,63.5],"nice":false,"zero":false,"reverse":true},"axis":{"title":null,"grid":false,"domain":false,"tickColor":"#000","tickWidth":1.4,"tickSize":6,"labelFont":"DejaVu Sans","labelFontSize":17.4,"labelColor":"#000","labelPadding":5,"labelOverlap":false,"labelFlush":false,"values":[7,16.5,20.5,24,33.5,43.5,48.5,54,60],"labelExpr":"{'7':'0','16.5':'29','20.5':'31','24':'4','33.5':'35','43.5':'36','48.5':'19','54':'27','60':'4'}[datum.value]"}},"color":{"field":"v","type":"quantitative","scale":{"scheme":"viridis","domain":[0,100]},"legend":null}}},
{"mark":{"type":"rect","width":15.6,"height":15.6,"clip":true},"encoding":{"x":{"field":"i","type":"quantitative"},"y":{"field":"j","type":"quantitative"},"color":{"field":"v","type":"quantitative","legend":null}}},
{"data":{"values":[{"p":14.5},{"p":19.5},{"p":22.5},{"p":26.5},{"p":41.5},{"p":46.5},{"p":51.5},{"p":57.5}]},"mark":{"type":"rule","color":"white","opacity":0.4,"strokeWidth":3},"encoding":{"x":{"field":"p","type":"quantitative"}}},
{"data":{"values":[{"p":14.5},{"p":19.5},{"p":22.5},{"p":26.5},{"p":41.5},{"p":46.5},{"p":51.5},{"p":57.5}]},"mark":{"type":"rule","color":"white","opacity":0.4,"strokeWidth":3},"encoding":{"y":{"field":"p","type":"quantitative"}}},
{"data":{"values":[{"a":-0.5,"b":63.5}]},"mark":{"type":"rect","fillOpacity":0,"stroke":"#000","strokeWidth":1.5},"encoding":{"x":{"field":"a","type":"quantitative"},"x2":{"field":"b"},"y":{"field":"a","type":"quantitative"},"y2":{"field":"b"}}}
]}
